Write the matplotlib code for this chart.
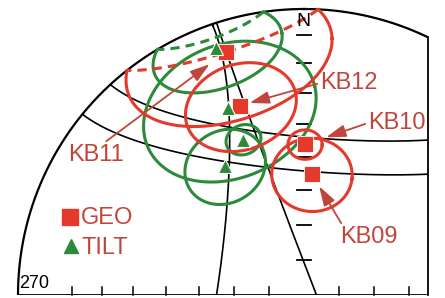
import numpy as np
import matplotlib
matplotlib.use("Agg")
import matplotlib.pyplot as plt
from matplotlib.patches import Rectangle

plt.rcParams['font.family'] = ['Liberation Sans', 'DejaVu Sans']

# site mean directions: declination, inclination, alpha95 (degrees)
sites = ["KB09", "KB10", "KB11", "KB12"]
geo_dec = [3.8, 0.4, 342.3, 341.4]
geo_inc = [55.2, 46.3, 11.7, 30.8]
geo_a95 = [10.9, 4.5, 23.5, 14.0]
tilt_dec = [328.4, 338.7, 340.5, 337.9]
tilt_inc = [46.1, 41.3, 9.1, 30.1]
tilt_a95 = [11.0, 4.6, 14.5, 22.0]

# small circles followed during tilt correction: axis dec, axis inc, half-angle
path_dec = [4.3, 4.5, 278.2, 68.9]
path_inc = [-0.7, -3.0, 2.2, 0.0]
path_angle = [55.1, 47.2, 63.1, 86.7]

tick_angles = [10, 20, 30, 40, 50, 60, 70, 80]

RED = "#e4392b"
GREEN = "#2d8a3a"
LABEL = "#c2453b"

# layout (pixels of the 445x298 picture)
W, H = 445, 298
cx, cy, R = 304, 295, 286
border = (428 - cx) / R


def px(x, y):
    return (x - cx) / R, (cy - y) / R


def to_xyz(dec, inc):
    d, i = np.radians(dec), np.radians(inc)
    return np.array([np.cos(i) * np.sin(d), np.cos(i) * np.cos(d), np.sin(i)])


def project(dec, inc):
    dec = np.radians(np.asarray(dec, float))
    r = np.sqrt(2) * np.sin(np.radians(90 - np.asarray(inc, float)) / 2)
    return r * np.sin(dec), r * np.cos(dec)


def small_circle(dec, inc, angle, n=1441):
    a = to_xyz(dec, inc)
    b = np.cross(a, [0, 0, 1.0])
    b /= np.linalg.norm(b)
    c = np.cross(a, b)
    t = np.linspace(0, 2 * np.pi, n)
    ang = np.radians(angle)
    p = np.cos(ang) * a[:, None] + np.sin(ang) * (np.outer(b, np.cos(t)) + np.outer(c, np.sin(t)))
    d = np.degrees(np.arctan2(p[0], p[1])) % 360
    i = np.degrees(np.arcsin(np.clip(p[2], -1, 1)))
    return d, i


def lower_upper(dec, inc):
    x, y = project(dec, np.abs(inc))
    xl, yl = x.copy(), y.copy()
    xu, yu = x.copy(), y.copy()
    xl[inc < 0] = np.nan
    yl[inc < 0] = np.nan
    xu[inc >= 0] = np.nan
    yu[inc >= 0] = np.nan
    return xl, yl, xu, yu


fig = plt.figure(figsize=(W / 100, H / 100), dpi=100)
ax = fig.add_axes([0, 0, 1, 1])
ax.set_xlim(-cx / R, (W - cx) / R)
ax.set_ylim((cy - H) / R, cy / R)
ax.axis('off')

clip = Rectangle((-2, 0), border + 2, 3, transform=ax.transData, fill=False)
lines = []

# primitive circle, E-W axis and right frame
th = np.linspace(0, 360, 721)
x, y = project(th, np.zeros_like(th))
lines += ax.plot(x, y, color='black', lw=1.6, zorder=2)
lines += ax.plot([-1, border], [0, 0], color='black', lw=1.3, zorder=2)
ax.plot([border, border], [0, np.sqrt(1 - border ** 2)], color='black', lw=1.3, zorder=2)

# 10 degree ticks
for a in tick_angles:
    r = np.sqrt(2) * np.sin(np.radians(a) / 2)
    ax.plot([-0.023, 0.023], [r, r], color='black', lw=1.3, zorder=2)
    if a <= 70:
        ax.plot([-r, -r], [0, 0.028], color='black', lw=1.1, zorder=2)
    if r <= border:
        ax.plot([r, r], [0, 0.028], color='black', lw=1.1, zorder=2)

# tilt-correction paths
for d, i, a in zip(path_dec, path_inc, path_angle):
    sd, si = small_circle(d, i, a)
    xl, yl, _, _ = lower_upper(sd, si)
    lines += ax.plot(xl, yl, color='black', lw=1.2, zorder=3)

# alpha95 circles (upper hemisphere part dashed)
for decs, incs, a95s, col in [(tilt_dec, tilt_inc, tilt_a95, GREEN),
                              (geo_dec, geo_inc, geo_a95, RED)]:
    for d, i, a in zip(decs, incs, a95s):
        sd, si = small_circle(d, i, a)
        xl, yl, xu, yu = lower_upper(sd, si)
        lines += ax.plot(xl, yl, color=col, lw=2.2, zorder=4)
        lines += ax.plot(xu, yu, color=col, lw=2.2, ls=(0, (3, 2)), zorder=4)

for ln in lines:
    ln.set_clip_path(clip)

gx, gy = project(geo_dec, geo_inc)
tx, ty = project(tilt_dec, tilt_inc)
ax.plot(gx, gy, 's', ms=11, color=RED, mec='white', mew=0.6, ls='none', zorder=6)
ax.plot(tx, ty, '^', ms=9.5, color=GREEN, mec='white', mew=0.8, ls='none', zorder=7)

# site labels with arrows
label_pos = {"KB09": (340, 237), "KB10": (368, 123), "KB11": (68, 155), "KB12": (320, 83)}
label_rel = {"KB09": (0.05, 1.0), "KB10": (0.0, 0.5), "KB11": (0.62, 1.0), "KB12": (0.0, 0.5)}
label_gap = {"KB09": 10, "KB10": 16, "KB11": 15, "KB12": 7}
for k, s in enumerate(sites):
    ax.annotate(s, xy=(gx[k], gy[k]), xytext=px(*label_pos[s]), fontsize=17,
                color=LABEL, ha='left', va='center', zorder=8,
                arrowprops=dict(arrowstyle='-|>,head_length=0.7,head_width=0.22',
                                color=LABEL, lw=1.3, relpos=label_rel[s],
                                shrinkA=0, shrinkB=label_gap[s]))

# legend
ax.plot(*px(70, 217), 's', ms=11, color=RED, zorder=6)
ax.text(*px(81, 218), "GEO", fontsize=17, color=LABEL, ha='left', va='center')
ax.plot(*px(71, 246), '^', ms=9.5, color=GREEN, zorder=6)
ax.text(*px(81, 248), "TILT", fontsize=17, color=LABEL, ha='left', va='center')

ax.text(*px(303, 21), "N", fontsize=14, color='black', ha='center', va='center', zorder=8)
ax.text(*px(19, 292), "270", fontsize=13, color='black', ha='left', va='bottom')

fig.savefig("out.png", dpi=100)
